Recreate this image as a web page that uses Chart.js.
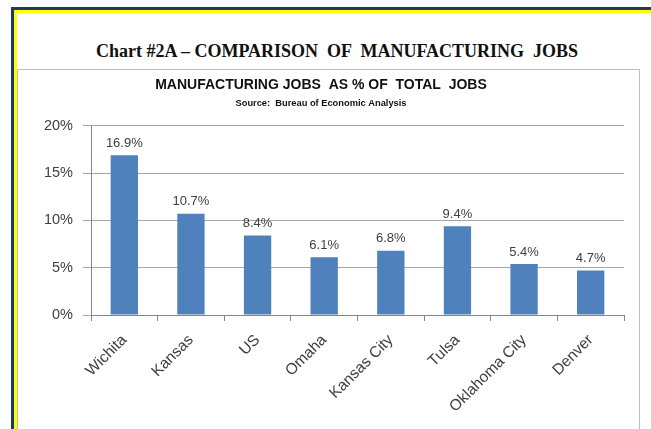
<!DOCTYPE html>
<html>
<head>
<meta charset="utf-8">
<script src="https://cdn.jsdelivr.net/npm/chart.js@4"></script>
<style>
  html, body { margin: 0; padding: 0; background: #fff; width: 651px; height: 429px; overflow: hidden; }
  #navy { position: absolute; left: 11px; top: 7px; width: 700px; height: 500px; border-left: 3px solid #1F3864; border-top: 3px solid #1F3864; }
  #yellow { position: absolute; left: 14px; top: 10px; width: 700px; height: 500px; border-left: 3px solid #FFFF00; border-top: 3px solid #FFFF00; }
  #maintitle { position: absolute; left: 337px; top: 41px; transform: translateX(-50%); white-space: pre;
    font-family: 'Liberation Serif', serif; font-weight: bold; font-size: 18px; color: #111; }
  #box { position: absolute; left: 17px; top: 69px; width: 621px; height: 400px; border: 1px solid #BFBFBF; background: #fff; }
  #wrap { position: absolute; left: 18px; top: 70px; width: 620px; height: 359px; }
</style>
</head>
<body>
<div id="navy"></div>
<div id="yellow"></div>
<div id="maintitle">Chart #2A – COMPARISON  OF  MANUFACTURING  JOBS</div>
<div id="box"></div>
<div id="wrap"><canvas id="c" width="620" height="359"></canvas></div>
<script>
const categories = ["Wichita", "Kansas", "US", "Omaha", "Kansas City", "Tulsa", "Oklahoma City", "Denver"];
const manufacturingShare = [16.9, 10.7, 8.4, 6.1, 6.8, 9.4, 5.4, 4.7];
const yTicks = [0, 5, 10, 15, 20];
const chartTitle = "MANUFACTURING JOBS  AS % OF  TOTAL  JOBS";
const chartSubtitle = "Source:  Bureau of Economic Analysis";

const barLabels = {
  id: 'barLabels',
  afterDatasetsDraw(chart) {
    const ctx = chart.ctx;
    const meta = chart.getDatasetMeta(0);
    ctx.save();
    ctx.font = '13px "Liberation Sans", Arial, sans-serif';
    ctx.fillStyle = '#404040';
    ctx.textAlign = 'center';
    ctx.textBaseline = 'middle';
    meta.data.forEach((el, i) => {
      const v = chart.data.datasets[0].data[i];
      ctx.fillText(v.toFixed(1) + '%', el.x, el.y - 12);
    });
    ctx.restore();
  }
};

new Chart(document.getElementById('c'), {
  type: 'bar',
  data: {
    labels: categories,
    datasets: [{
      data: manufacturingShare,
      backgroundColor: '#4F81BD',
      borderWidth: 0,
      categoryPercentage: 1.0,
      barPercentage: 0.41
    }]
  },
  options: {
    responsive: false,
    animation: false,
    devicePixelRatio: 1,
    layout: { padding: { left: 0, right: 14, top: 0, bottom: 0 } },
    plugins: {
      legend: { display: false },
      tooltip: { enabled: false },
      title: {
        display: true, text: chartTitle, color: '#111',
        font: { family: '"Liberation Sans", Arial, sans-serif', size: 14, weight: 'bold' },
        padding: { top: 7, bottom: 4 }
      },
      subtitle: {
        display: true, text: chartSubtitle, color: '#111',
        font: { family: '"Liberation Sans", Arial, sans-serif', size: 9.3, weight: 'bold' },
        padding: { top: 0, bottom: 17 }
      }
    },
    scales: {
      x: {
        afterFit(scale) { scale.height = 114; },
        grid: { display: true, drawOnChartArea: false, drawTicks: true, tickLength: 6, color: '#868686', offset: true },
        border: { color: '#868686', width: 1 },
        ticks: {
          color: '#404040', maxRotation: 45, minRotation: 45, padding: 10, autoSkip: false,
          font: { family: '"Liberation Sans", Arial, sans-serif', size: 15.5 }
        }
      },
      y: {
        min: 0, max: 20,
        afterFit(scale) { scale.width = 73; },
        afterBuildTicks(scale) { scale.ticks = yTicks.map(v => ({ value: v })); },
        grid: { color: '#A6A6A6', tickLength: 8, drawTicks: true },
        border: { color: '#868686', width: 1 },
        ticks: {
          color: '#404040', padding: 10,
          font: { family: '"Liberation Sans", Arial, sans-serif', size: 14.5 },
          callback: v => v + '%'
        }
      }
    }
  },
  plugins: [barLabels]
});
</script>
</body>
</html>
